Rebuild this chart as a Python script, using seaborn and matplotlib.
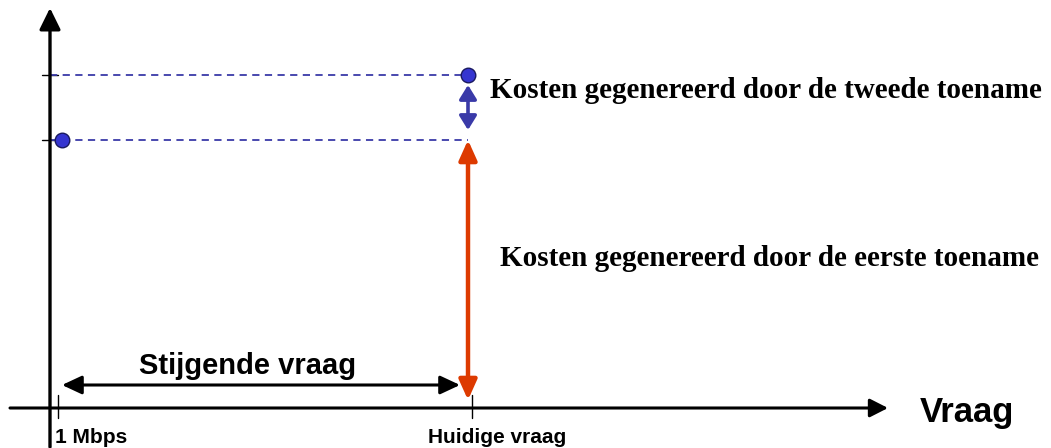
import matplotlib
matplotlib.use("Agg")
import matplotlib.pyplot as plt
import seaborn as sns
import pandas as pd

# ---- data (diagram units) ----
demand_labels = ["1 Mbps", "Huidige vraag"]
demand_pos = [0.019, 1.01]          # tick positions on demand axis
cost_points_x = [0.0287, 1.0]        # demand at each point
cost_points_y = [1.0, 1.2425]        # cost at each point
first_increase_label = "Kosten gegenereerd door de eerste toename"
second_increase_label = "Kosten gegenereerd door de tweede toename"
demand_growth_label = "Stijgende vraag"
axis_label = "Vraag"

sns.set_theme(style="white")
plt.rcParams['font.family'] = ['Liberation Sans', 'DejaVu Sans']

fig = plt.figure(figsize=(10.51, 4.48), dpi=100)
ax = fig.add_axes([0, 0, 1, 1])
ax.set_xlim(-50 / 418, 1001 / 418)
ax.set_ylim(-40 / 268, 408 / 268)
ax.axis("off")

px = 1 / 418   # one pixel in x units
py = 1 / 268   # one pixel in y units

# axes with arrows
ax.annotate("", xy=(0, 400 * py), xytext=(0, -39 * py),
            arrowprops=dict(arrowstyle="-|>,head_length=0.65,head_width=0.32",
                            mutation_scale=20, lw=2.4, color="black",
                            shrinkA=0, shrinkB=0))
ax.annotate("", xy=(838 * px, 0), xytext=(-40 * px, 0),
            arrowprops=dict(arrowstyle="-|>,head_length=0.55,head_width=0.28",
                            mutation_scale=20, lw=2.2, color="black",
                            shrinkA=0, shrinkB=0))

# y ticks
for cy in cost_points_y:
    ax.plot([-8 * px, 8 * px], [cy, cy], color="black", lw=1.0)

# x ticks and labels
for xpos in demand_pos:
    ax.plot([xpos, xpos], [13 * py, -10 * py], color="black", lw=1.0)
ax.text(demand_pos[0] - 3 * px, -29 * py, demand_labels[0], ha="left", va="center",
        fontsize=15, fontweight="bold", color="black")
ax.text(demand_pos[1] + 25 * px, -29 * py, demand_labels[1], ha="center", va="center",
        fontsize=15, fontweight="bold", color="black")

# dashed guide lines
for cy in cost_points_y:
    ax.plot([0, cost_points_x[1]], [cy, cy], color="#3a3aa8", lw=1.3,
            linestyle=(0, (4, 3)), zorder=2)

# points
df = pd.DataFrame({"x": cost_points_x, "y": cost_points_y})
sns.scatterplot(data=df, x="x", y="y", ax=ax, s=110, color="#3535d0",
                edgecolor="#1a1a60", linewidth=1.0, zorder=5, legend=False)

# red double arrow (first increase)
ax.annotate("", xy=(cost_points_x[1], 8 * py), xytext=(cost_points_x[1], cost_points_y[0]),
            arrowprops=dict(arrowstyle="<|-|>,head_length=0.6,head_width=0.27",
                            mutation_scale=20, lw=3.2, color="#dd3a00",
                            shrinkA=0, shrinkB=0), zorder=4)
# blue double arrow (second increase)
ax.annotate("", xy=(cost_points_x[1], cost_points_y[0] + 10 * py),
            xytext=(cost_points_x[1], cost_points_y[1] - 10 * py),
            arrowprops=dict(arrowstyle="<|-|>,head_length=0.42,head_width=0.26",
                            mutation_scale=20, lw=2.6, color="#3a3aa8",
                            shrinkA=0, shrinkB=0), zorder=4)

# black double arrow (rising demand)
ax.annotate("", xy=(cost_points_x[0], 23 * py), xytext=(cost_points_x[1] - 8 * px, 23 * py),
            arrowprops=dict(arrowstyle="<|-|>,head_length=0.6,head_width=0.28",
                            mutation_scale=20, lw=2.2, color="black",
                            shrinkA=0, shrinkB=0))
ax.text(198 * px, 42 * py, demand_growth_label, ha="center", va="center",
        fontsize=21, fontweight="bold", color="black")

# labels
ax.text(440 * px, 318 * py, second_increase_label, ha="left", va="center",
        fontsize=21, fontweight="bold", family=["Liberation Serif", "DejaVu Serif"],
        color="black")
ax.text(450 * px, 150 * py, first_increase_label, ha="left", va="center",
        fontsize=21, fontweight="bold", family=["Liberation Serif", "DejaVu Serif"],
        color="black")
ax.text(870 * px, -4 * py, axis_label, ha="left", va="center",
        fontsize=25, fontweight="bold", color="black")

fig.savefig("out.png", dpi=100, facecolor="white")
